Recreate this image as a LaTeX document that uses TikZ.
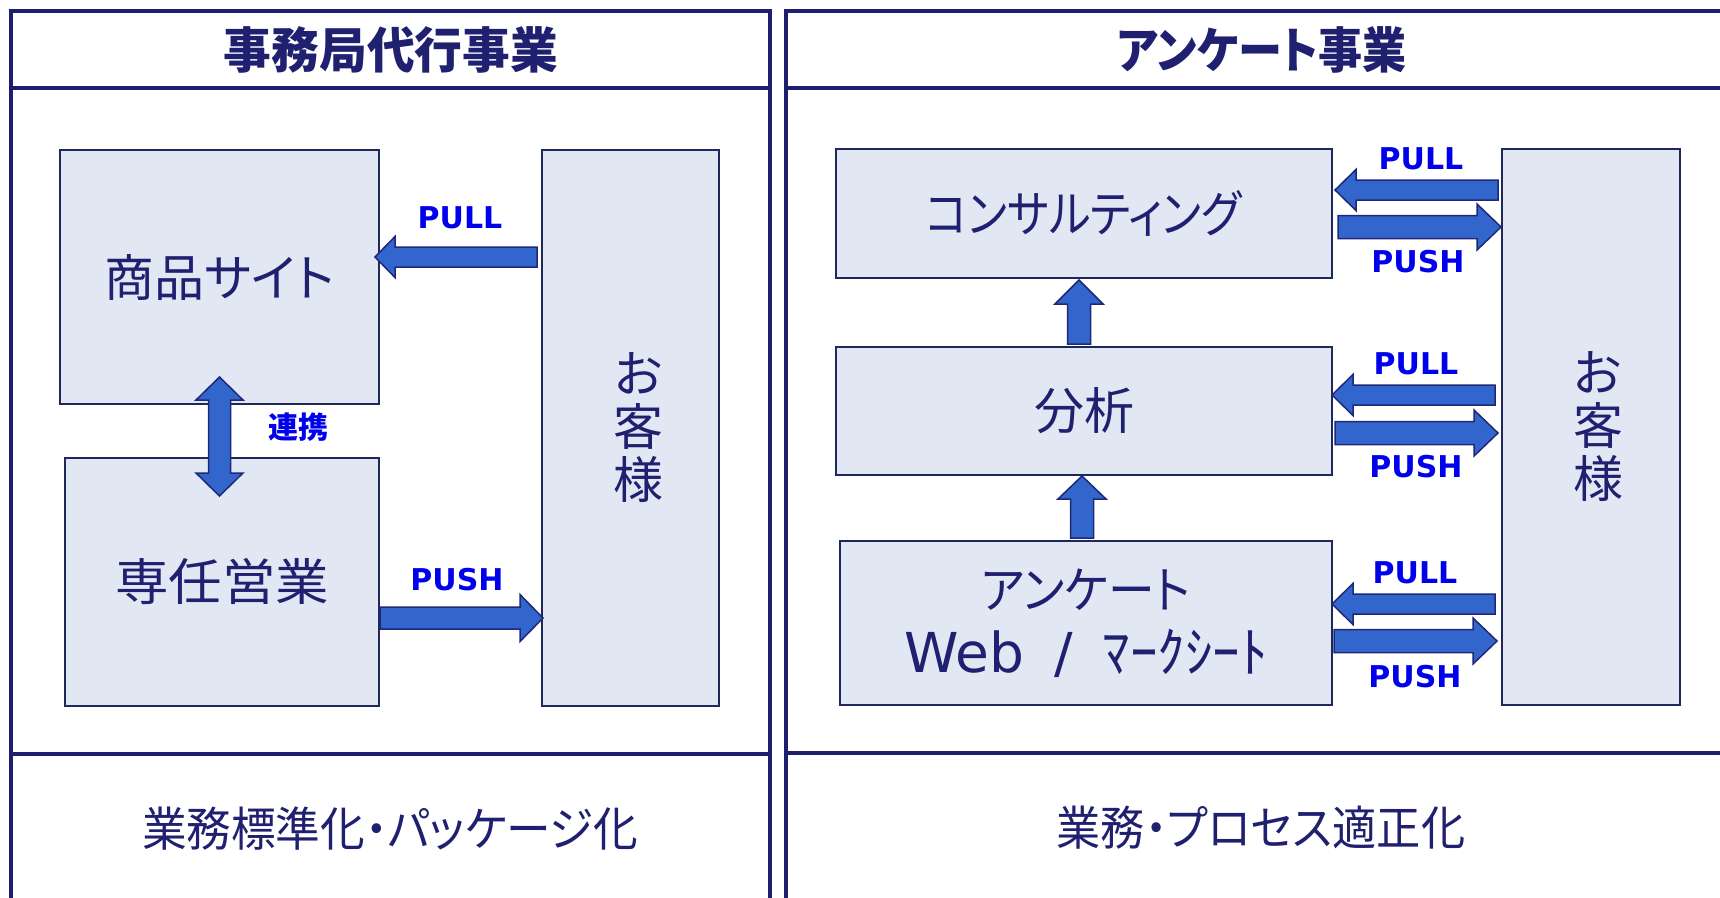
\documentclass[tikz,border=0pt]{standalone}
\usepackage{fontspec}
\setmainfont{DejaVu Sans}
\newfontfamily\jp[RawFeature=+palt]{Noto Sans CJK JP}
\usetikzlibrary{calc}
\definecolor{navy}{RGB}{32,32,112}
\definecolor{panelc}{RGB}{30,30,110}
\definecolor{boxc}{RGB}{30,40,90}
\definecolor{boxfill}{RGB}{225,231,243}
\definecolor{arrowfill}{RGB}{51,102,204}
\definecolor{arrowline}{RGB}{30,40,120}
\definecolor{lblblue}{RGB}{0,0,235}

\newcommand\harrow[5]{%
  \draw[blk] let \p1=#1, \p2=#2, \n1={ifthenelse(\x2>\x1,1,-1)*(#5)} in
    (\x1,{\y1+(#3)}) -- ({\x2-\n1},{\y1+(#3)}) -- ({\x2-\n1},{\y1+(#4)}) -- (\x2,\y1)
    -- ({\x2-\n1},{\y1-(#4)}) -- ({\x2-\n1},{\y1-(#3)}) -- (\x1,{\y1-(#3)}) -- cycle;}
\newcommand\varrow[5]{%
  \draw[blk] let \p1=#1, \p2=#2, \n1={ifthenelse(\y2>\y1,1,-1)*(#5)} in
    ({\x1+(#3)},\y1) -- ({\x1+(#3)},{\y2-\n1}) -- ({\x1+(#4)},{\y2-\n1}) -- (\x1,\y2)
    -- ({\x1-(#4)},{\y2-\n1}) -- ({\x1-(#3)},{\y2-\n1}) -- ({\x1-(#3)},\y1) -- cycle;}
\newcommand\vdarrow[5]{%
  \draw[blk] let \p1=#1, \p2=#2, \n1={ifthenelse(\y2>\y1,1,-1)*(#5)} in
    (\x1,\y1) -- ({\x1+(#4)},{\y1+\n1}) -- ({\x1+(#3)},{\y1+\n1}) -- ({\x1+(#3)},{\y2-\n1})
    -- ({\x1+(#4)},{\y2-\n1}) -- (\x1,\y2) -- ({\x1-(#4)},{\y2-\n1}) -- ({\x1-(#3)},{\y2-\n1})
    -- ({\x1-(#3)},{\y1+\n1}) -- ({\x1-(#4)},{\y1+\n1}) -- cycle;}

\begin{document}
\begin{tikzpicture}[x=1pt,y=-1pt,
  panel/.style={draw=panelc, line width=3.5pt, line join=miter},
  box/.style={draw=boxc, fill=boxfill, line width=2pt, inner sep=0pt, anchor=north west,
    text=navy, align=center, font=\jp\fontsize{50}{60}\selectfont},
  blk/.style={draw=arrowline, fill=arrowfill, line width=1.5pt, line join=miter},
  lbl/.style={text=lblblue, inner sep=0pt, font=\bfseries\fontsize{30}{30}\selectfont},
  lblj/.style={text=lblblue, inner sep=0pt, font=\jp\bfseries\fontsize{30}{30}\selectfont},
  titlet/.style={text=navy, inner sep=0pt, font=\jp\bfseries\fontsize{49}{49}\selectfont},
  bottomt/.style={text=navy, inner sep=0pt, font=\jp\fontsize{47}{47}\selectfont}]
\useasboundingbox (0,0) rectangle (1720,897);
\clip (0,0) rectangle (1720,897);
\fill[white] (0,0) rectangle (1720,897);

% panels
\draw[panel] (11,905) -- (11,11) -- (770,11) -- (770,905);
\draw[panel] (11,88) -- (770,88);
\draw[panel] (11,754) -- (770,754);
\draw[panel] (786,905) -- (786,11) -- (1730,11);
\draw[panel] (786,88) -- (1730,88);
\draw[panel] (786,753) -- (1730,753);

% titles and bottom texts
\node[titlet] (t1) at (391,50) {\scalebox{0.975}[1]{事務局代行事業}};
\node[titlet] (t2) at (1262,50) {\scalebox{0.9}[1]{アンケート事業}};
\node[bottomt] (b1) at (390,829) {\scalebox{0.95}[1]{業務標準化・パッケージ化}};
\node[bottomt] (b2) at (1261,828) {\scalebox{0.94}[1]{業務・プロセス適正化}};

% left boxes
\node[box, minimum width=319pt, minimum height=254pt] (site) at (59,149) {商品サイト};
\node[box, minimum width=314pt, minimum height=248pt] (sales) at (64,457) {\scalebox{1.07}[1]{専任営業}};
\node[box, minimum width=177pt, minimum height=556pt, font=\jp\fontsize{50}{53}\selectfont] (custL) at (541,149)
  {\hspace*{16pt}お\\\hspace*{16pt}客\\\hspace*{16pt}様};

% right boxes
\node[box, minimum width=496pt, minimum height=129pt] (consult) at (835,148) {\scalebox{0.885}[1]{コンサルティング}};
\node[box, minimum width=496pt, minimum height=128pt] (anal) at (835,346) {分析};
\node[box, minimum width=492pt, minimum height=164pt, font=\jp\fontsize{50}{64}\selectfont] (survey) at (839,540)
  {\scalebox{0.935}[1]{アンケート}\\{\fontsize{55}{64}\selectfont{\rmfamily Web\hspace{30pt}/\hspace{30pt}}ﾏｰｸｼｰﾄ}};
\node[box, minimum width=178pt, minimum height=556pt, font=\jp\fontsize{50}{53}\selectfont] (custR) at (1501,148)
  {\hspace*{14pt}お\\\hspace*{14pt}客\\\hspace*{14pt}様};

% arrow levels
\coordinate (lpull) at (0,257);
\coordinate (lpush) at (0,618);
\coordinate (r1a) at (0,190);
\coordinate (r1b) at (0,227);
\coordinate (r2a) at (0,395);
\coordinate (r2b) at (0,433);
\coordinate (r3a) at (0,604);
\coordinate (r3b) at (0,641);

% left arrows
\harrow{($(custL.west|-lpull)+(-4,0)$)}{($(site.east|-lpull)+(-5,0)$)}{10pt}{20.5pt}{20pt}
\harrow{($(sales.east|-lpush)+(0,0)$)}{($(custL.west|-lpush)+(2,0)$)}{11pt}{23.5pt}{23pt}
\vdarrow{($(site.south)+(0,-28)$)}{($(site.south|-sales.north)+(0,39)$)}{11pt}{23.5pt}{23pt}

% right arrows
\harrow{($(custR.west|-r1a)+(-3,0)$)}{($(consult.east|-r1a)+(2,0)$)}{10pt}{20.5pt}{21pt}
\harrow{($(consult.east|-r1b)+(5,0)$)}{(custR.west|-r1b)}{11.5pt}{23pt}{24pt}
\harrow{($(custR.west|-r2a)+(-6,0)$)}{($(anal.east|-r2a)+(-1,0)$)}{10pt}{20.5pt}{21pt}
\harrow{($(anal.east|-r2b)+(2,0)$)}{($(custR.west|-r2b)+(-3,0)$)}{11.5pt}{23pt}{24pt}
\harrow{($(custR.west|-r3a)+(-6,0)$)}{($(survey.east|-r3a)+(-1,0)$)}{10pt}{20.5pt}{21pt}
\harrow{($(survey.east|-r3b)+(1,0)$)}{($(custR.west|-r3b)+(-4,0)$)}{11.5pt}{23pt}{24pt}
\varrow{($(anal.north)+(-5,-2)$)}{($(consult.south)+(-5,1)$)}{11.5pt}{24pt}{24pt}
\varrow{($(survey.north)+(-4,-2)$)}{(anal.south)}{11.5pt}{24pt}{23pt}

% labels
\node[lbl] (lpullt) at (460,218) {PULL};
\node[lbl] (lpusht) at (457,580) {PUSH};
\node[lblj] (renkei) at (298,427) {連携};
\node[lbl] (pull1) at (1421,159) {PULL};
\node[lbl] (push1) at (1418,262) {PUSH};
\node[lbl] (pull2) at (1416,364) {PULL};
\node[lbl] (push2) at (1416,467) {PUSH};
\node[lbl] (pull3) at (1415,573) {PULL};
\node[lbl] (push3) at (1415,677) {PUSH};
\end{tikzpicture}
\end{document}
